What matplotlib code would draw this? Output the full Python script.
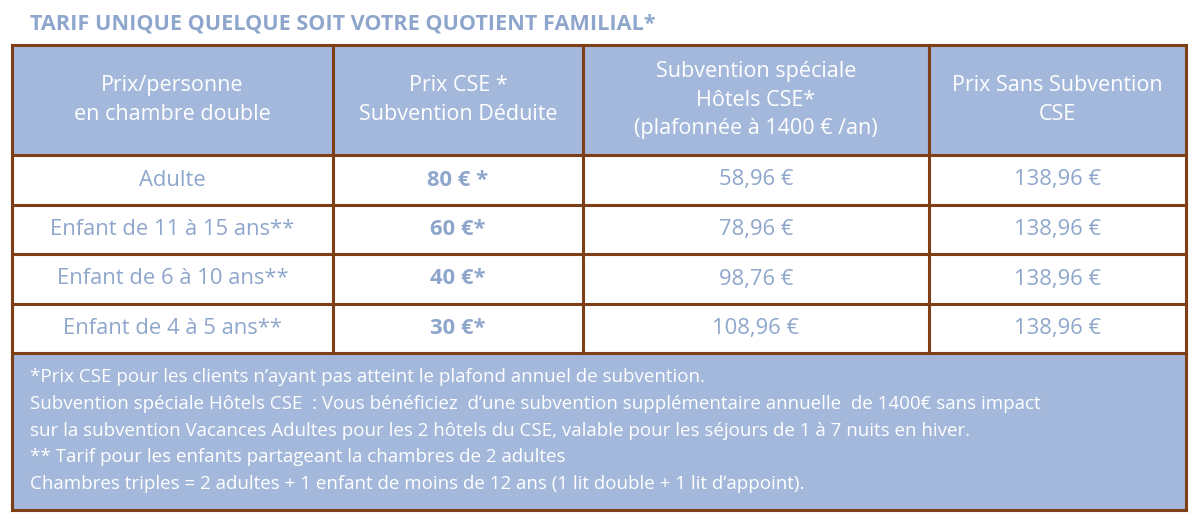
import matplotlib
matplotlib.use("Agg")
import matplotlib.pyplot as plt
from matplotlib.patches import Rectangle

title = "TARIF UNIQUE QUELQUE SOIT VOTRE QUOTIENT FAMILIAL*"
headers = ["Prix/personne\nen chambre double", "Prix CSE *\nSubvention Déduite",
           "Subvention spéciale\nHôtels CSE*\n(plafonnée à 1400 € /an)", "Prix Sans Subvention\nCSE"]
categories = ["Adulte", "Enfant de 11 à 15 ans**", "Enfant de 6 à 10 ans**", "Enfant de 4 à 5 ans**"]
prix_cse = ["80 € *", "60 €*", "40 €*", "30 €*"]
subvention = ["58,96 €", "78,96 €", "98,76 €", "108,96 €"]
sans_subv = ["138,96 €", "138,96 €", "138,96 €", "138,96 €"]
notes = [
    "*Prix CSE pour les clients n\u2019ayant pas atteint le plafond annuel de subvention.",
    "Subvention spéciale Hôtels CSE  : Vous bénéficiez  d\u2019une subvention supplémentaire annuelle  de 1400€ sans impact",
    "sur la subvention Vacances Adultes pour les 2 hôtels du CSE, valable pour les séjours de 1 à 7 nuits en hiver.",
    "** Tarif pour les enfants partageant la chambres de 2 adultes",
    "Chambres triples = 2 adultes + 1 enfant de moins de 12 ans (1 lit double + 1 lit d\u2019appoint).",
]

HEAD = "#A3B8DA"
TXT = "#8EA6CC"
BRD = "#7E3F16"
FONT = "Open Sans"

fig = plt.figure(figsize=(12, 5.21), dpi=100)
ax = fig.add_axes([0, 0, 1, 1])
ax.set_xlim(0, 1200); ax.set_ylim(521, 0); ax.axis("off")

xs = [12, 333, 583, 929, 1186]
ys = [45, 155, 205, 254, 304, 353, 510]

ax.text(30, 24, title, color=TXT, fontsize=15.6, fontweight="bold", family=FONT, va="center")
ax.add_patch(Rectangle((xs[0], ys[0]), xs[-1]-xs[0], ys[1]-ys[0], fc=HEAD, ec="none"))
ax.add_patch(Rectangle((xs[0], ys[5]), xs[-1]-xs[0], ys[6]-ys[5], fc=HEAD, ec="none"))

for x in xs:
    ax.plot([x, x], [ys[0], ys[5] if x not in (xs[0], xs[-1]) else ys[6]], color=BRD, lw=2.2)
for y in ys:
    ax.plot([xs[0], xs[-1]], [y, y], color=BRD, lw=2.2)

for i, h in enumerate(headers):
    ax.text((xs[i]+xs[i+1])/2, (ys[0]+ys[1])/2, h, color="white", fontsize=15.5, family=FONT,
            ha="center", va="center", linespacing=1.45)

cols = [categories, prix_cse, subvention, sans_subv]
for r in range(4):
    yc = (ys[r+1]+ys[r+2])/2
    for c in range(4):
        ax.text((xs[c]+xs[c+1])/2, yc, cols[c][r], color=TXT, fontsize=15.8, family=FONT,
                ha="center", va="center", fontweight="bold" if c == 1 else "normal")

for k, line in enumerate(notes):
    ax.text(30, 377 + k*26.8, line, color="white", fontsize=13.5, family=FONT,
            va="center")

fig.savefig("out.png", dpi=100)
